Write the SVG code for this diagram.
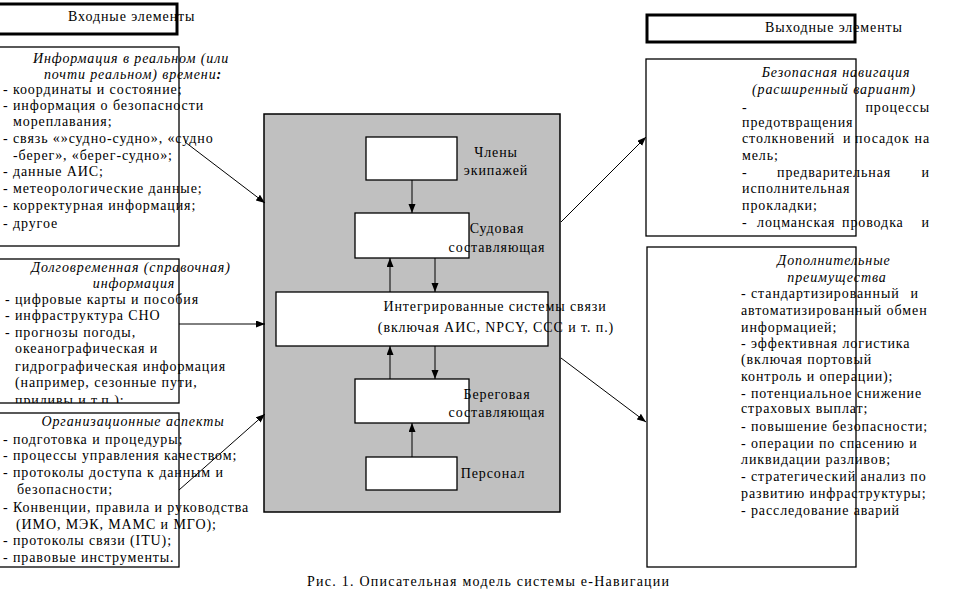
<svg xmlns="http://www.w3.org/2000/svg" width="964" height="607" viewBox="0 0 964 607">
<style>
text{font-family:"Liberation Serif","Times New Roman",serif;font-size:14px;letter-spacing:0.9px;fill:#000}
.i{font-style:italic}
.m{text-anchor:middle}
.e{text-anchor:end}
.box{fill:#fff;stroke:#000;stroke-width:1.3}
.hdr{fill:#fff;stroke:#000;stroke-width:3}
.gray{fill:#c0c0c0;stroke:#000;stroke-width:1.5}
.ln{stroke:#000;stroke-width:1;fill:none;marker-end:url(#ah)}
</style>
<defs>
<marker id="ah" markerUnits="userSpaceOnUse" markerWidth="10" markerHeight="8" refX="9" refY="3.5" orient="auto">
<path d="M0,0 L9,3.5 L0,7 z" fill="#000"/>
</marker>
<clipPath id="c2"><rect x="-10" y="255" width="400" height="148"/></clipPath>
</defs>
<rect width="964" height="607" fill="#fff"/>

<g id="in-header">
<rect class="hdr" x="-5" y="4" width="182" height="30"/>
<text x="68" y="21">Входные элементы</text>
</g>

<g id="in-realtime">
<rect class="box" x="-2" y="47" width="181" height="199"/>
<text class="i m" x="131" y="63">Информация в реальном (или</text>
<text class="i m" x="133" y="79">почти реальном) времени<tspan font-weight="bold">:</tspan></text>
<text x="3" y="94">- координаты и состояние;</text>
<text x="3" y="110">- информация о безопасности</text>
<text x="13" y="126">мореплавания;</text>
<text x="3" y="143">- связь «»судно-судно», «судно</text>
<text x="13" y="160">-берег», «берег-судно»;</text>
<text x="3" y="176">- данные АИС;</text>
<text x="3" y="193">- метеорологические данные;</text>
<text x="3" y="210">- корректурная информация;</text>
<text x="3" y="228">- другое</text>
</g>

<g id="in-longterm">
<rect class="box" x="-2" y="259" width="181" height="144"/>
<g clip-path="url(#c2)">
<text class="i m" x="131" y="272">Долговременная (справочная)</text>
<text class="i m" x="134" y="288">информация</text>
<text x="5" y="304">- цифровые карты и пособия</text>
<text x="5" y="320">- инфраструктура СНО</text>
<text x="5" y="337">- прогнозы погоды,</text>
<text x="15" y="353">океанографическая и</text>
<text x="15" y="371">гидрографическая информация</text>
<text x="15" y="387">(например, сезонные пути,</text>
<text x="15" y="405">приливы и т.п.);</text>
</g>
</g>

<g id="in-org">
<rect class="box" x="-2" y="413" width="181" height="154"/>
<text class="i m" x="133" y="426">Организационные аспекты</text>
<text x="3" y="444">- подготовка и процедуры;</text>
<text x="3" y="460">- процессы управления качеством;</text>
<text x="3" y="477">- протоколы доступа к данным и</text>
<text x="17" y="494">безопасности;</text>
<text x="3" y="512">- Конвенции, правила и руководства</text>
<text x="16" y="529">(ИМО, МЭК, МАМС и МГО);</text>
<text x="3" y="545">- протоколы связи (ITU);</text>
<text x="3" y="562">- правовые инструменты.</text>
</g>

<g id="system">
<rect class="gray" x="264" y="114" width="296" height="398"/>
</g>

<g id="crew">
<rect class="box" x="366" y="137" width="91" height="43"/>
<text class="m" x="496" y="157">Члены</text>
<text class="m" x="496" y="175">экипажей</text>
</g>

<g id="ship">
<rect class="box" x="355" y="213" width="114" height="45"/>
<text class="m" x="497" y="233">Судовая</text>
<text class="m" x="497" y="252">составляющая</text>
</g>

<g id="comm">
<rect class="box" x="276" y="292" width="272" height="54"/>
<text class="m" x="495" y="311">Интегрированные системы связи</text>
<text class="m" x="496" y="332">(включая АИС, NPCY, ССС и т. п.)</text>
</g>

<g id="shore">
<rect class="box" x="355" y="379" width="114" height="44"/>
<text class="m" x="497" y="399">Береговая</text>
<text class="m" x="497" y="417">составляющая</text>
</g>

<g id="personnel">
<rect class="box" x="366" y="457" width="91" height="33"/>
<text class="m" x="493" y="478">Персонал</text>
</g>

<g id="out-header">
<rect class="hdr" x="647" y="15" width="208" height="27"/>
<text x="765" y="32">Выходные элементы</text>
</g>

<g id="out-safe">
<rect class="box" x="646" y="59" width="210" height="177"/>
<text class="i m" x="836" y="77">Безопасная навигация</text>
<text class="i m" x="834" y="94">(расширенный вариант)</text>
<text x="742" y="112">-</text>
<text class="e" x="930" y="112">процессы</text>
<text x="742" y="127">предотвращения</text>
<text x="742" y="143">столкновений</text>
<text x="843" y="143">и</text>
<text x="855" y="143">посадок</text>
<text class="e" x="930" y="143">на</text>
<text x="742" y="160">мель;</text>
<text x="742" y="177">-</text>
<text x="777" y="177">предварительная</text>
<text class="e" x="930" y="177">и</text>
<text x="742" y="193">исполнительная</text>
<text x="742" y="210">прокладки;</text>
<text x="742" y="227">-</text>
<text x="757" y="227">лоцманская</text>
<text x="842" y="227">проводка</text>
<text class="e" x="930" y="227">и</text>
</g>

<g id="out-benefits">
<rect class="box" x="647" y="247" width="209" height="320"/>
<text class="i m" x="834" y="265">Дополнительные</text>
<text class="i m" x="837" y="282">преимущества</text>
<text x="741" y="298">- стандартизированный</text>
<text class="e" x="919" y="298">и</text>
<text x="741" y="315">автоматизированный обмен</text>
<text x="741" y="332">информацией;</text>
<text x="741" y="348">- эффективная логистика</text>
<text x="741" y="364">(включая портовый</text>
<text x="741" y="381">контроль и операции);</text>
<text x="741" y="398">- потенциальное снижение</text>
<text x="741" y="413">страховых выплат;</text>
<text x="741" y="431">- повышение безопасности;</text>
<text x="741" y="448">- операции по спасению и</text>
<text x="741" y="464">ликвидации разливов;</text>
<text x="741" y="481">- стратегический анализ по</text>
<text x="741" y="498">развитию инфраструктуры;</text>
<text x="741" y="515">- расследование аварий</text>
</g>

<g id="connectors">
<line class="ln" x1="185" y1="142" x2="265" y2="203"/>
<line class="ln" x1="179" y1="324" x2="265" y2="324"/>
<line class="ln" x1="179" y1="490" x2="265" y2="414"/>
<line class="ln" x1="561" y1="222" x2="646" y2="137"/>
<line class="ln" x1="561" y1="358" x2="646" y2="422"/>
<line class="ln" x1="412" y1="180" x2="412" y2="213"/>
<line class="ln" x1="390" y1="292" x2="390" y2="258"/>
<line class="ln" x1="435" y1="258" x2="435" y2="292"/>
<line class="ln" x1="390" y1="379" x2="390" y2="346"/>
<line class="ln" x1="435" y1="346" x2="435" y2="379"/>
<line class="ln" x1="412" y1="457" x2="412" y2="423"/>
</g>

<text x="307" y="586" style="letter-spacing:1.25px">Рис. 1. Описательная модель системы е-Навигации</text>
</svg>
